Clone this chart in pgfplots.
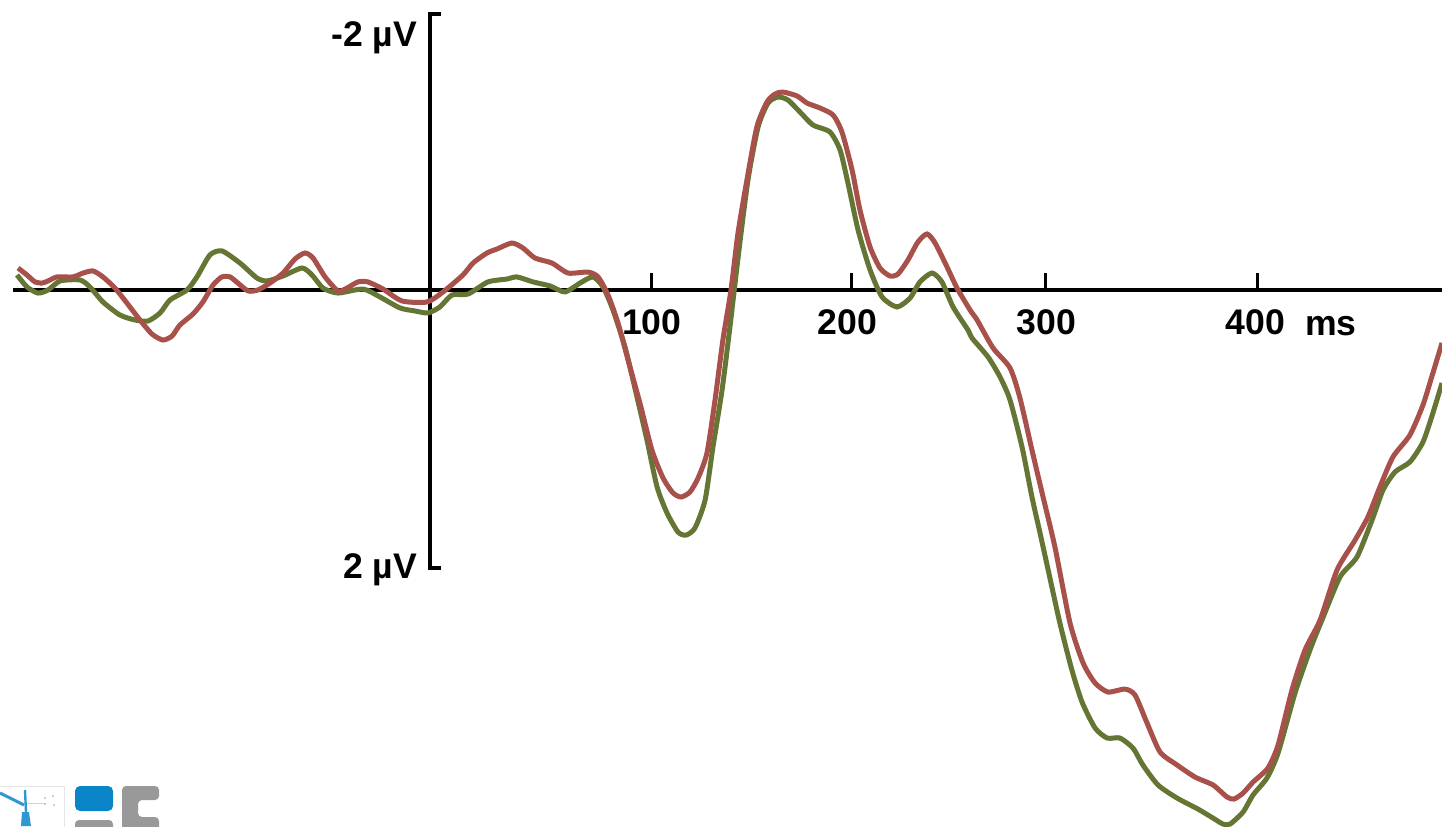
\documentclass[border=0pt]{standalone}
\usepackage{fontspec}
\setmainfont{Liberation Sans}
\usepackage{pgfplots}
\pgfplotsset{compat=1.18}
\definecolor{ernred}{HTML}{A8504A}
\definecolor{erngreen}{HTML}{647534}
\definecolor{logoblue}{HTML}{0A86C8}
\definecolor{logogray}{HTML}{999999}
\newcommand{\lab}{\fontsize{17.8}{20}\selectfont\bfseries}
\begin{document}
\begin{tikzpicture}
\useasboundingbox (0,0) rectangle (721pt,-413pt);
\begin{axis}[
  at={(6.5pt,0pt)}, anchor=north west,
  scale only axis, width=714.5pt, height=413pt,
  xmin=-201.45, xmax=488.9, ymin=-2.086, ymax=3.856,
  y dir=reverse,
  axis x line=middle, axis y line=none,
  axis line style={-, line width=2pt, black},
  xtick={107.2,203.7,297.4,399.6},
  xticklabels={100,\kern-4pt 200,\kern1pt 300,\kern-2pt 400},
  major tick length=8.5pt,
  every tick/.style={black, line width=1.5pt},
  xtick align=outside,
  x tick label style={font=\lab, anchor=center, yshift=-7.5pt, fill=none},
  clip=false,
]
\draw[line width=2pt, black] (axis cs:5.3,-1.986) -- (axis cs:0,-1.986) -- (axis cs:0,2) -- (axis cs:5.3,2);
\node[anchor=east, font=\lab, inner sep=0pt] at (axis cs:-6,-1.817) {-2 µV};
\node[anchor=east, font=\lab, inner sep=0pt] at (axis cs:-6,2.014) {2 µV};
\node[anchor=center, font=\lab, inner sep=0pt] at (axis cs:435.3,0.259) {ms};
\addplot[erngreen, line width=2.5pt, smooth, tension=0.4] coordinates {
(-199.5,-0.108)(-194.7,-0.022)(-189.4,0.022)(-184.5,0)(-178.7,-0.065)(-169.1,-0.072)(-164.3,-0.022)(-158.0,0.086)(-149.8,0.180)(-142.5,0.216)(-136.2,0.223)(-130.4,0.165)(-125.6,0.072)(-117.4,0)(-112.6,-0.094)(-106.3,-0.252)(-100.5,-0.281)(-91.8,-0.194)(-83.6,-0.086)(-78.7,-0.065)(-71.0,-0.101)(-61.8,-0.158)(-57.0,-0.108)(-51.7,-0.014)(-44.4,0.022)(-32.4,-0.007)(-24.2,0.050)(-14.5,0.129)(-7.2,0.151)(-1.0,0.165)(4.8,0.122)(10.6,0.036)(18.4,0.029)(28.0,-0.058)(37.2,-0.079)(42.0,-0.094)(49.8,-0.058)(58.0,-0.029)(65.2,0.014)(72.5,-0.050)(78.7,-0.094)(83.6,-0.022)(88.4,0.144)(94.2,0.410)(100.0,0.770)(104.8,1.079)(109.7,1.417)(114.5,1.604)(119.8,1.741)(123.7,1.763)(128.0,1.712)(132.9,1.511)(136.7,1.129)(141.1,0.719)(144.9,0.266)(148.8,-0.230)(153.6,-0.791)(158.5,-1.173)(163.3,-1.345)(168.1,-1.388)(172.9,-1.367)(178.7,-1.281)(185.0,-1.187)(193.2,-1.137)(198.1,-1.007)(201.9,-0.770)(206.8,-0.432)(212.6,-0.144)(218.4,0.050)(225.6,0.122)(231.9,0.058)(236.7,-0.058)(242.5,-0.122)(247.3,-0.058)(252.7,0.122)(259.9,0.288)(261.8,0.345)(269.6,0.482)(275.4,0.626)(280.2,0.791)(286.0,1.129)(290.8,1.489)(294.7,1.748)(298.1,1.978)(304.3,2.396)(310.1,2.734)(315.0,2.964)(321.3,3.151)(327.1,3.223)(333.3,3.223)(339.6,3.295)(344.4,3.417)(351.7,3.561)(360.9,3.655)(371.0,3.734)(378.3,3.799)(383.1,3.842)(386.5,3.842)(392.8,3.755)(397.6,3.633)(404.3,3.511)(409.7,3.331)(417.9,2.899)(425.1,2.590)(430.9,2.374)(439.6,2.065)(447.8,1.921)(455.1,1.655)(460.4,1.439)(466.2,1.309)(473.4,1.237)(479.7,1.094)(484.5,0.885)(488.9,0.669)
};
\addplot[ernred, line width=2.5pt, smooth, tension=0.4] coordinates {
(-199.0,-0.158)(-194.7,-0.108)(-190.8,-0.058)(-187.4,-0.050)(-184.5,-0.065)(-180.2,-0.094)(-172.5,-0.094)(-167.6,-0.122)(-162.8,-0.137)(-158.0,-0.094)(-152.2,-0.014)(-146.4,0.094)(-140.1,0.216)(-134.3,0.317)(-129.0,0.360)(-124.6,0.331)(-120.8,0.252)(-114.5,0.173)(-109.7,0.086)(-104.8,-0.036)(-100.5,-0.094)(-96.6,-0.094)(-92.8,-0.050)(-87.9,0.007)(-83.1,0)(-77.3,-0.050)(-71.0,-0.122)(-65.2,-0.223)(-60.4,-0.266)(-56.5,-0.230)(-50.7,-0.094)(-44.4,0.007)(-40.1,-0.014)(-34.8,-0.058)(-30.0,-0.058)(-22.7,-0.007)(-13.5,0.079)(-1.4,0.086)(6.3,0.014)(15.9,-0.108)(20.8,-0.194)(27.5,-0.266)(32.4,-0.295)(39.6,-0.338)(44.9,-0.302)(50.7,-0.230)(58.9,-0.194)(66.7,-0.122)(76.3,-0.129)(81.2,-0.094)(86.0,0.036)(90.8,0.237)(96.6,0.554)(101.4,0.813)(107.2,1.151)(112.6,1.353)(117.4,1.460)(121.3,1.489)(125.6,1.453)(129.5,1.353)(133.8,1.173)(137.7,0.791)(141.5,0.360)(145.4,0)(148.8,-0.410)(153.1,-0.791)(157.9,-1.173)(162.8,-1.353)(166.7,-1.410)(170.5,-1.424)(177.3,-1.396)(182.1,-1.345)(188.4,-1.309)(194.7,-1.259)(199.0,-1.137)(203.9,-0.863)(207.7,-0.576)(212.6,-0.309)(217.4,-0.158)(222.2,-0.101)(226.1,-0.115)(230.9,-0.216)(235.7,-0.345)(240.1,-0.403)(244.0,-0.338)(249.8,-0.165)(254.6,-0.014)(260.9,0.144)(264.3,0.216)(272.0,0.417)(280.2,0.561)(285.0,0.777)(290.8,1.151)(295.7,1.460)(301.9,1.849)(309.2,2.396)(315.5,2.683)(321.3,2.827)(327.5,2.892)(335.7,2.871)(340.6,2.914)(346.4,3.115)(352.7,3.324)(360.9,3.417)(369.6,3.504)(378.3,3.561)(385.0,3.647)(388.4,3.662)(392.8,3.619)(397.6,3.540)(404.8,3.439)(409.7,3.273)(416.4,2.878)(422.7,2.590)(430.0,2.374)(438.2,2.014)(446.9,1.799)(453.1,1.633)(458.9,1.417)(465.2,1.201)(473.4,1.043)(479.7,0.827)(484.5,0.597)(488.9,0.381)
};
\end{axis}
% logos
\begin{scope}[x=0.5pt,y=-0.5pt]
\clip (0,0) rectangle (1442,826);
\draw[line width=0.4pt, black!10] (-2,786) rectangle (64,830);
\draw[logoblue!85, line width=1.5pt] (0,793) -- (24,805);
\draw[logoblue!85, line width=1.2pt] (25,790) -- (26,812);
\fill[logoblue!85] (22,812) -- (29,812) -- (31,826) -- (21,826) -- cycle;
\draw[logoblue!30, line width=0.5pt] (28,803) -- (46,803);
\fill[logoblue!50] (45,798) circle (1) (53,796) circle (1) (45,804) circle (1) (54,805) circle (1);
\fill[logoblue, rounded corners=2.5pt] (75,786) rectangle (113,811);
\fill[logogray, rounded corners=2pt] (75,820) rectangle (113,832);
\fill[logogray, rounded corners=2pt] (122,786) -- (159,786) -- (159,800) -- (138,800) -- (138,817) -- (159,817) -- (159,832) -- (122,832) -- cycle;
\end{scope}
\end{tikzpicture}
\end{document}
